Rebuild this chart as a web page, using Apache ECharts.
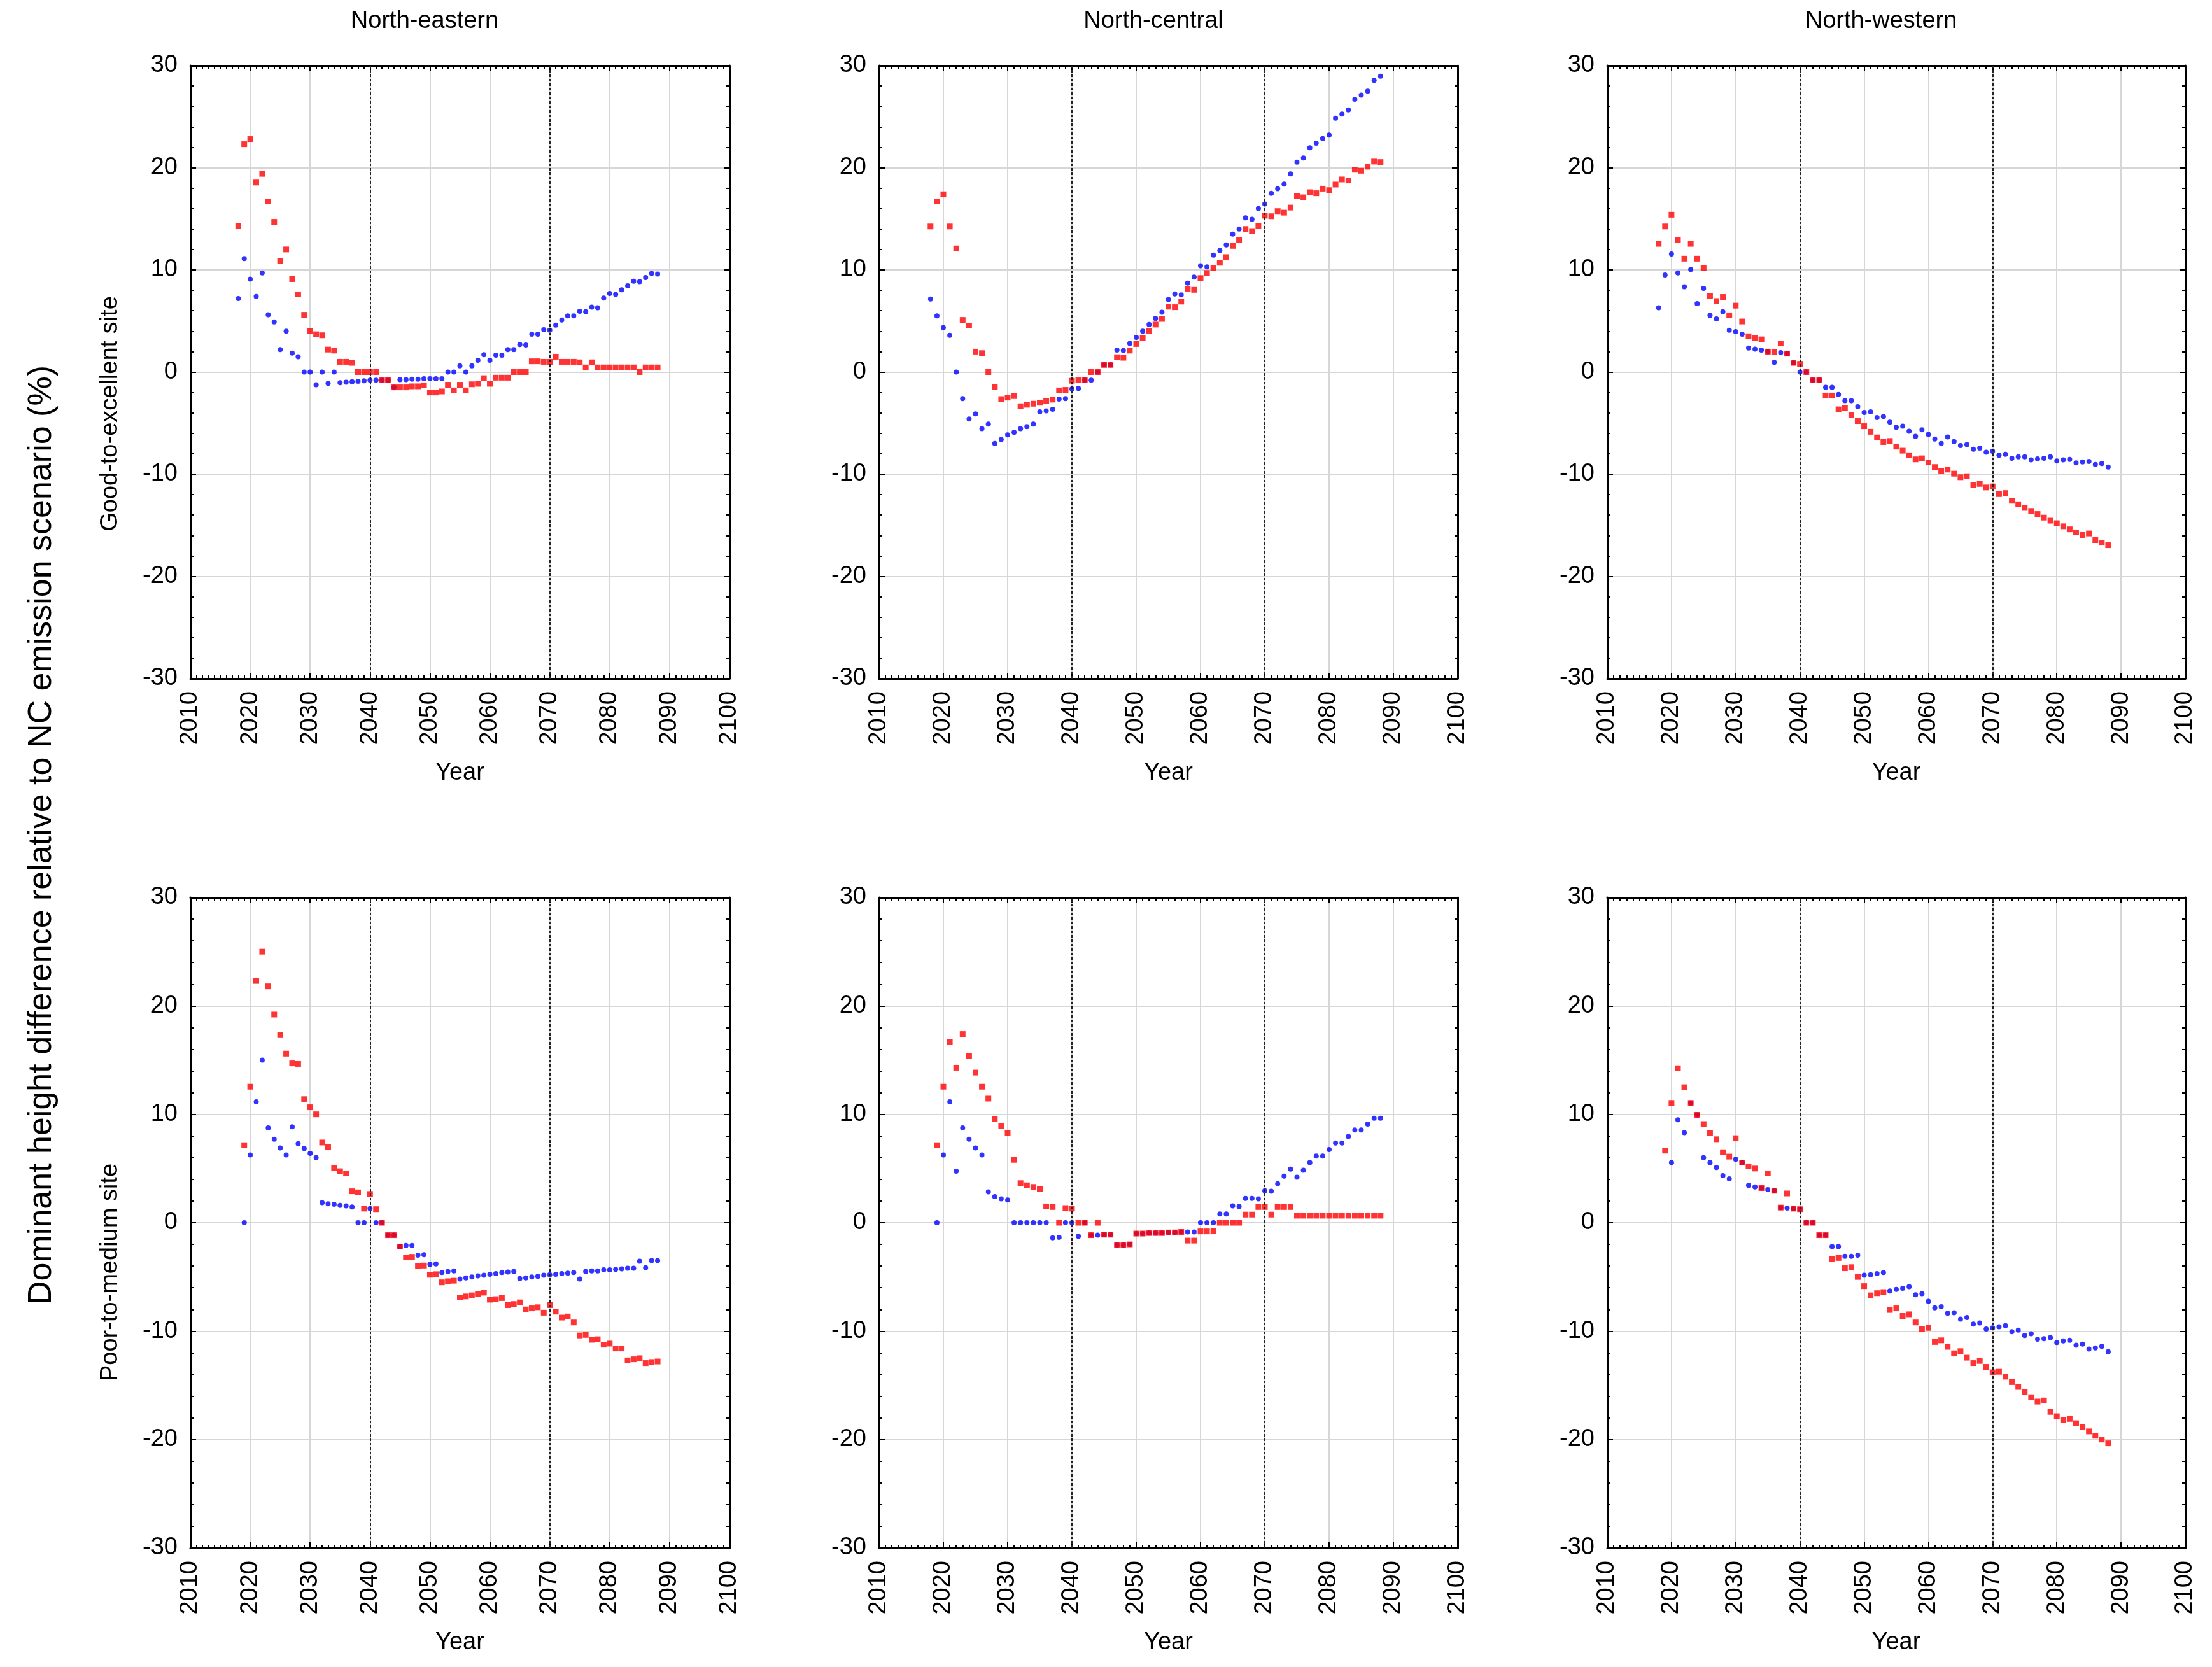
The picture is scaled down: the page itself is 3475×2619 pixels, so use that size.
<!DOCTYPE html>
<html>
<head>
<meta charset="utf-8">
<title>Dominant height difference</title>
<script src="https://cdn.jsdelivr.net/npm/echarts@6/dist/echarts.min.js"></script>
<style>
html, body { margin: 0; padding: 0; background: #fff; }
#chart { width: 3475px; height: 2619px; }
</style>
</head>
<body>
<div id="chart"></div>
<script>
// ---- data ----
var regionNames = ["North-eastern", "North-central", "North-western"];
var siteNames = ["Good-to-excellent site", "Poor-to-medium site"];
var yTitle = "Dominant height difference relative to NC emission scenario (%)";
var xTitle = "Year";
var xRange = [2010, 2100, 10];   // min, max, step
var yRange = [-30, 30, 10];
var refYears = [2040, 2070];     // dotted period limits

var startGood = 2018;            // first year, upper row
var startPoor = 2019;            // first year, lower row

// Good-to-excellent site
var neGoodRed = [14.3, 22.3, 22.8, 18.55, 19.4, 16.7, 14.7, 10.9, 12.0, 9.1,
	7.6, 5.6, 4.0, 3.7, 3.6, 2.2, 2.1, 1.0, 1.0, 0.9,
	0, 0, 0, 0, -0.8, -0.8, -1.5, -1.5, -1.5, -1.4,
	-1.4, -1.3, -2.0, -2.0, -1.9, -1.25, -1.8, -1.25, -1.8, -1.2,
	-1.15, -0.6, -1.15, -0.55, -0.55, -0.55, 0, 0, 0, 1.05,
	1.05, 1.0, 1.0, 1.5, 1.0, 1.0, 1.0, 0.95, 0.45, 0.95,
	0.45, 0.45, 0.45, 0.45, 0.45, 0.45, 0.45, 0, 0.45, 0.45, 0.45];
var neGoodBlue = [7.2, 11.1, 9.1, 7.4, 9.7, 5.6, 4.9, 2.2, 4.0, 1.85,
	1.5, 0, 0, -1.25, 0, -1.1, 0, -1.05, -1.0, -0.95,
	-0.9, -0.85, -0.8, -0.8, -0.8, -0.8, -1.5, -0.75, -0.75, -0.7,
	-0.7, -0.65, -0.65, -0.65, -0.65, 0, 0, 0.6, 0, 0.6,
	1.15, 1.7, 1.15, 1.65, 1.65, 2.2, 2.2, 2.7, 2.65, 3.7,
	3.7, 4.15, 4.1, 4.6, 5.1, 5.5, 5.5, 5.95, 5.9, 6.35,
	6.3, 7.25, 7.7, 7.6, 8.05, 8.45, 8.9, 8.85, 9.25, 9.65, 9.6];
var ncGoodRed = [14.25, 16.7, 17.4, 14.25, 12.1, 5.1, 4.55, 2.0, 1.85, 0,
	-1.45, -2.65, -2.5, -2.35, -3.35, -3.2, -3.1, -3.0, -2.85, -2.7,
	-1.8, -1.75, -0.85, -0.8, -0.8, 0, 0, 0.7, 0.7, 1.45,
	1.4, 2.1, 2.75, 3.35, 4.0, 4.65, 5.2, 6.4, 6.35, 6.9,
	8.1, 8.05, 9.2, 9.7, 10.2, 10.7, 11.25, 12.35, 12.9, 14.0,
	13.8, 14.3, 15.3, 15.25, 15.75, 15.6, 16.1, 17.2, 17.1, 17.6,
	17.5, 17.95, 17.8, 18.35, 18.85, 18.75, 19.8, 19.7, 20.1, 20.6, 20.55];
var ncGoodBlue = [7.15, 5.5, 4.35, 3.6, 0, -2.6, -4.6, -4.1, -5.55, -5.1,
	-7.0, -6.6, -6.15, -5.9, -5.55, -5.35, -5.1, -3.9, -3.8, -3.65,
	-2.65, -2.6, -1.65, -1.6, -0.8, -0.8, 0, 0.7, 0.7, 2.15,
	2.1, 2.8, 3.4, 4.0, 4.65, 5.25, 5.85, 7.1, 7.65, 7.55,
	8.7, 9.3, 10.4, 10.3, 11.45, 11.9, 12.45, 13.5, 14.0, 15.1,
	14.95, 16.0, 16.45, 17.5, 17.95, 18.4, 19.4, 20.55, 20.95, 21.95,
	22.4, 22.85, 23.2, 24.85, 25.25, 25.65, 26.7, 27.1, 27.5, 28.55, 28.95];
var nwGoodRed = [12.55, 14.25, 15.4, 12.9, 11.1, 12.55, 11.1, 10.2, 7.45, 6.95,
	7.35, 5.55, 6.5, 4.95, 3.5, 3.35, 3.2, 2.0, 1.95, 2.8,
	1.8, 0.9, 0.8, 0, -0.8, -0.8, -2.3, -2.3, -3.65, -3.55,
	-4.2, -4.8, -5.3, -5.85, -6.4, -6.85, -6.75, -7.3, -7.7, -8.15,
	-8.55, -8.45, -8.85, -9.3, -9.7, -9.55, -9.95, -10.3, -10.2, -11.05,
	-10.95, -11.3, -11.2, -11.95, -11.85, -12.6, -12.95, -13.3, -13.6, -13.9,
	-14.25, -14.55, -14.8, -15.1, -15.4, -15.7, -15.95, -15.8, -16.45, -16.7, -16.95];
var nwGoodBlue = [6.3, 9.5, 11.55, 9.7, 8.35, 10.05, 6.7, 8.2, 5.55, 5.2,
	5.9, 4.1, 3.95, 3.7, 2.35, 2.25, 2.15, 2.0, 0.95, 1.9,
	1.8, 0.9, 0, 0, -0.8, -0.8, -1.5, -1.5, -2.2, -2.8,
	-2.8, -3.4, -3.95, -3.9, -4.45, -4.35, -4.9, -5.4, -5.3, -5.8,
	-6.3, -5.65, -6.1, -6.55, -7.0, -6.35, -6.8, -7.2, -7.1, -7.55,
	-7.45, -7.85, -7.75, -8.15, -8.05, -8.45, -8.3, -8.3, -8.6, -8.5,
	-8.45, -8.3, -8.7, -8.6, -8.55, -8.9, -8.8, -8.75, -9.05, -8.95, -9.3];

// Poor-to-medium site
var nePoorRed = [7.15, 12.55, 22.3, 25.0, 21.8, 19.2, 17.3, 15.6, 14.7, 14.65,
	11.4, 10.65, 10.0, 7.4, 7.0, 5.05, 4.75, 4.55, 2.9, 2.8,
	1.3, 2.65, 1.25, 0, -1.15, -1.15, -2.2, -3.2, -3.15, -4.0,
	-3.95, -4.8, -4.75, -5.5, -5.4, -5.35, -6.9, -6.8, -6.7, -6.55,
	-6.45, -7.1, -7.05, -6.95, -7.6, -7.5, -7.35, -8.0, -7.9, -7.8,
	-8.3, -7.6, -8.2, -8.75, -8.65, -9.2, -10.4, -10.35, -10.8, -10.75,
	-11.25, -11.15, -11.6, -11.6, -12.7, -12.6, -12.5, -12.95, -12.85, -12.8];
var nePoorBlue = [0, 6.25, 11.15, 15.0, 8.75, 7.7, 6.9, 6.25, 8.85, 7.3,
	6.85, 6.4, 6.0, 1.85, 1.75, 1.7, 1.6, 1.55, 1.45, 0,
	0, 1.3, 0, 0, -1.15, -1.15, -2.2, -2.1, -2.1, -3.0,
	-2.95, -3.85, -3.8, -4.6, -4.5, -4.45, -5.2, -5.1, -5.0, -4.9,
	-4.85, -4.75, -4.7, -4.6, -4.55, -4.5, -5.15, -5.1, -5.0, -4.95,
	-4.85, -4.8, -4.75, -4.7, -4.65, -4.6, -5.2, -4.5, -4.45, -4.45,
	-4.35, -4.35, -4.3, -4.25, -4.2, -4.2, -3.55, -4.15, -3.5, -3.5];
var ncPoorRed = [7.15, 12.55, 16.7, 14.3, 17.4, 15.4, 13.85, 12.55, 11.45, 9.55,
	8.9, 8.3, 5.8, 3.65, 3.45, 3.3, 3.1, 1.5, 1.45, 0,
	1.35, 1.3, 0, 0, -1.15, 0, -1.1, -1.1, -2.05, -2.05,
	-2.0, -1.0, -1.0, -0.95, -0.95, -0.95, -0.9, -0.9, -0.85, -1.65,
	-1.65, -0.8, -0.8, -0.75, 0, 0, 0, 0, 0.75, 0.75,
	1.45, 1.45, 0.75, 1.45, 1.45, 1.45, 0.65, 0.65, 0.65, 0.65,
	0.65, 0.65, 0.65, 0.65, 0.65, 0.65, 0.65, 0.65, 0.65, 0.65];
var ncPoorBlue = [0, 6.25, 11.15, 4.75, 8.75, 7.7, 6.9, 6.25, 2.85, 2.4,
	2.2, 2.1, 0, 0, 0, 0, 0, 0, -1.4, -1.35,
	0, 0, -1.25, 0, -1.15, -1.15, -1.1, -1.1, -2.05, -2.05,
	-2.0, -1.0, -1.0, -0.95, -0.95, -0.95, -0.9, -0.9, -0.85, -0.85,
	-0.85, 0, 0, 0, 0.8, 0.8, 1.55, 1.5, 2.25, 2.25,
	2.2, 2.95, 2.9, 3.6, 4.3, 4.95, 4.2, 4.85, 5.55, 6.15,
	6.15, 6.75, 7.35, 7.35, 7.95, 8.55, 8.55, 9.1, 9.65, 9.65];
var nwPoorRed = [6.65, 11.05, 14.25, 12.5, 11.05, 9.95, 9.1, 8.25, 7.7, 6.5,
	6.1, 7.8, 5.55, 5.2, 5.0, 3.2, 4.55, 2.95, 1.4, 2.7,
	1.3, 1.25, 0, 0, -1.15, -1.15, -3.35, -3.25, -4.2, -4.1,
	-5.0, -5.85, -6.7, -6.5, -6.4, -8.05, -7.9, -8.6, -8.45, -9.2,
	-9.8, -9.7, -11.0, -10.85, -11.45, -12.05, -11.85, -12.45, -12.95, -12.75,
	-13.3, -13.8, -13.75, -14.2, -14.7, -15.15, -15.6, -16.1, -16.5, -16.4,
	-17.45, -17.85, -18.2, -18.1, -18.5, -18.85, -19.25, -19.65, -20.0, -20.35];
var nwPoorBlue = [null, 5.55, 9.5, 8.3, 11.05, 9.95, 6.0, 5.55, 5.1, 4.35,
	4.05, 5.85, 5.55, 3.45, 3.3, 3.2, 3.05, 2.95, 1.4, 1.35,
	1.3, 1.25, 0, 0, -1.15, -1.15, -2.2, -2.2, -3.1, -3.1,
	-3.0, -4.85, -4.8, -4.7, -4.6, -6.3, -6.15, -6.05, -5.9, -6.65,
	-6.55, -7.25, -7.85, -7.75, -8.35, -8.3, -8.9, -8.75, -9.35, -9.25,
	-9.8, -9.7, -9.6, -9.5, -10.05, -9.9, -10.4, -10.25, -10.75, -10.7,
	-10.6, -11.05, -10.9, -10.85, -11.3, -11.2, -11.65, -11.55, -11.4, -11.9];

(function() {

	var FONT = "Liberation Sans, Arial, sans-serif";

	var HEIGHTCHART = function() {
		// panel frames in page pixels
		this.colLeft = [299, 1381, 2525];
		this.colWidth = [847, 909, 908];
		this.rowTop = [103, 1410];
		this.rowHeight = [963, 1022];
		this.panels = [
			{ row: 0, col: 0, start: startGood, red: neGoodRed, blue: neGoodBlue },
			{ row: 0, col: 1, start: startGood, red: ncGoodRed, blue: ncGoodBlue },
			{ row: 0, col: 2, start: startGood, red: nwGoodRed, blue: nwGoodBlue },
			{ row: 1, col: 0, start: startPoor, red: nePoorRed, blue: nePoorBlue },
			{ row: 1, col: 1, start: startPoor, red: ncPoorRed, blue: ncPoorBlue },
			{ row: 1, col: 2, start: startPoor, red: nwPoorRed, blue: nwPoorBlue }
		];
		return this;
	};
	HEIGHTCHART.prototype = {
		init: function() {
			var _this = this;
			var myChart = echarts.init(document.getElementById("chart"), null, { renderer: "canvas" });
			myChart.setOption(_this.getOption());
		},
		// year/value pairs, skipping unread points
		toPairs: function(values, start) {
			var out = [];
			for (var i = 0; i < values.length; i++) {
				if (values[i] !== null) {
					out.push([start + i, values[i]]);
				}
			}
			return out;
		},
		tickStyle: function(len) {
			return { show: true, inside: true, length: len, lineStyle: { color: "#000", width: 2 } };
		},
		getOption: function() {
			var _this = this;
			var grids = [], xAxes = [], yAxes = [], series = [], graphics = [];

			for (var p = 0; p < _this.panels.length; p++) {
				var pan = _this.panels[p];
				grids.push({
					left: _this.colLeft[pan.col],
					top: _this.rowTop[pan.row],
					width: _this.colWidth[pan.col],
					height: _this.rowHeight[pan.row],
					containLabel: false
				});
				var axisLine = { show: true, onZero: false, lineStyle: { color: "#000", width: 3 } };

				// bottom x axis with labels (plain years, no thousands comma)
				xAxes.push({
					type: "value", gridIndex: p, position: "bottom",
					min: xRange[0], max: xRange[1], interval: xRange[2],
					axisLine: axisLine,
					axisTick: _this.tickStyle(9),
					minorTick: { show: true, splitNumber: 10, length: 5, lineStyle: { color: "#000", width: 2 } },
					splitLine: { show: true, lineStyle: { color: "#d6d6d6", width: 2 } },
					axisLabel: {
						show: true, rotate: 90, margin: 20, fontSize: 38, fontFamily: FONT, color: "#000",
						formatter: function(v) { return String(v); }
					},
					name: xTitle, nameLocation: "middle", nameGap: 130,
					nameTextStyle: { fontSize: 38, fontFamily: FONT, color: "#000" }
				});
				// top mirror
				xAxes.push({
					type: "value", gridIndex: p, position: "top",
					min: xRange[0], max: xRange[1], interval: xRange[2],
					axisLine: axisLine,
					axisTick: _this.tickStyle(9),
					minorTick: { show: true, splitNumber: 10, length: 5, lineStyle: { color: "#000", width: 2 } },
					splitLine: { show: false },
					axisLabel: { show: false }
				});
				// left y axis with labels
				yAxes.push({
					type: "value", gridIndex: p, position: "left",
					min: yRange[0], max: yRange[1], interval: yRange[2],
					axisLine: axisLine,
					axisTick: _this.tickStyle(9),
					minorTick: { show: true, splitNumber: 5, length: 5, lineStyle: { color: "#000", width: 2 } },
					splitLine: { show: true, lineStyle: { color: "#d6d6d6", width: 2 } },
					axisLabel: { show: true, margin: 20, fontSize: 38, fontFamily: FONT, color: "#000" }
				});
				// right mirror
				yAxes.push({
					type: "value", gridIndex: p, position: "right",
					min: yRange[0], max: yRange[1], interval: yRange[2],
					axisLine: axisLine,
					axisTick: _this.tickStyle(9),
					minorTick: { show: true, splitNumber: 5, length: 5, lineStyle: { color: "#000", width: 2 } },
					splitLine: { show: false },
					axisLabel: { show: false }
				});

				var refLines = [];
				for (var r = 0; r < refYears.length; r++) {
					refLines.push({ xAxis: refYears[r] });
				}

				series.push({
					type: "scatter",
					xAxisIndex: p * 2, yAxisIndex: p * 2,
					symbol: "circle", symbolSize: 8,
					itemStyle: { color: "#0000ff" },
					data: _this.toPairs(pan.blue, pan.start),
					z: 3,
					markLine: {
						silent: true, symbol: ["none", "none"],
						label: { show: false },
						lineStyle: { color: "#222", width: 2, type: [4, 3] },
						data: refLines
					}
				});
				series.push({
					type: "scatter",
					xAxisIndex: p * 2, yAxisIndex: p * 2,
					symbol: "rect", symbolSize: 9,
					itemStyle: { color: "#ff0000" },
					data: _this.toPairs(pan.red, pan.start),
					z: 4
				});
			}

			// region titles above each column
			var titleX = [667, 1812, 2955];
			for (var c = 0; c < regionNames.length; c++) {
				graphics.push({
					type: "text", x: titleX[c], y: 34,
					style: { text: regionNames[c], fontSize: 38, fontFamily: FONT, fill: "#000", align: "center", verticalAlign: "middle" }
				});
			}
			// site labels for each row
			var siteY = [650, 1999];
			for (var s = 0; s < siteNames.length; s++) {
				graphics.push({
					type: "text", x: 174, y: siteY[s], rotation: Math.PI / 2,
					style: { text: siteNames[s], fontSize: 38, fontFamily: FONT, fill: "#000", align: "center", verticalAlign: "middle" }
				});
			}
			// common y title
			graphics.push({
				type: "text", x: 66, y: 1312, rotation: Math.PI / 2,
				style: { text: yTitle, fontSize: 52, fontFamily: FONT, fill: "#000", align: "center", verticalAlign: "middle" }
			});

			return {
				backgroundColor: "#fff",
				animation: false,
				grid: grids,
				xAxis: xAxes,
				yAxis: yAxes,
				series: series,
				graphic: graphics
			};
		}
	};

	var hc = new HEIGHTCHART();
	hc.init();
})();
</script>
</body>
</html>
